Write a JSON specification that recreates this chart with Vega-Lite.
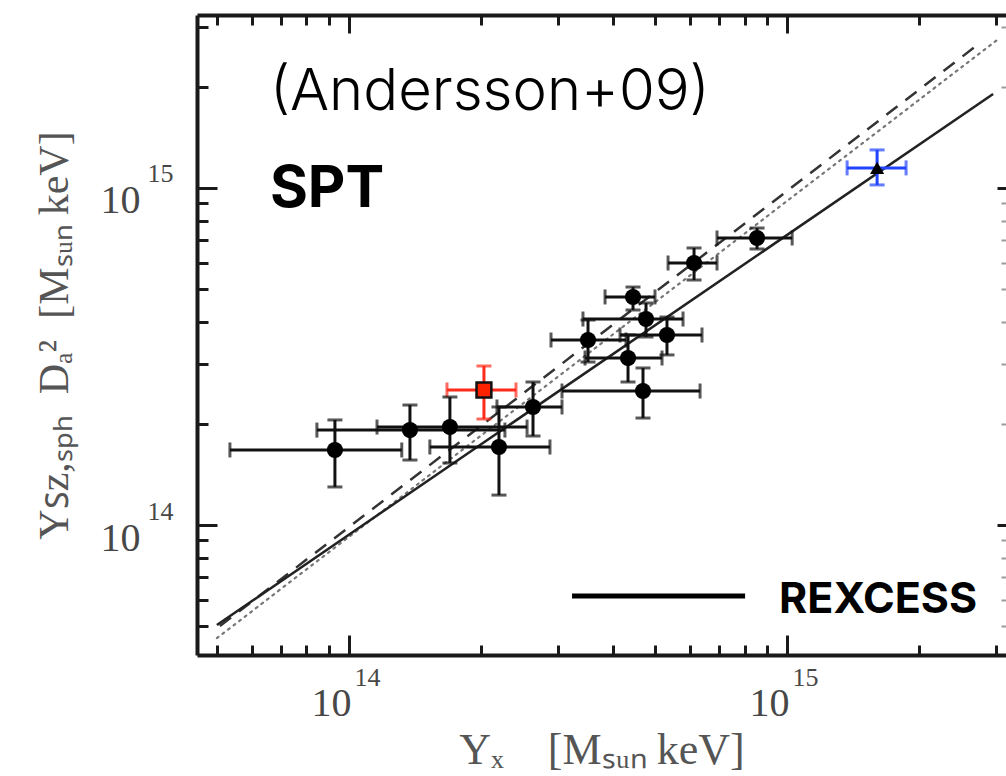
{
  "$schema": "https://vega.github.io/schema/vega-lite/v6.json",
  "autosize": {"type": "none"},
  "padding": {"left": 197, "right": 0, "top": 15, "bottom": 121},
  "width": 809,
  "height": 640,
  "background": "white",
  "config": {
    "view": {"stroke": null},
    "axis": {"grid": false, "labelFont": "Liberation Serif", "titleFont": "Liberation Serif", "labelColor": "#474747", "titleColor": "#555555", "titleFontWeight": "normal", "domainColor": "#1a1a1a", "tickColor": "#1a1a1a", "domainWidth": 4, "tickWidth": 3, "labelFlush": false, "labelOverlap": false, "labelBound": false}
  },
  "datasets": {
    "pts": [
      {"kind": "black", "x": 9.29e13, "xlo": 5.35e13, "xhi": 1.32e14, "y": 1.67e14, "ylo": 1.297e14, "yhi": 2.05e14},
      {"kind": "black", "x": 1.378e14, "xlo": 8.45e13, "xhi": 2.27e14, "y": 1.913e14, "ylo": 1.559e14, "yhi": 2.27e14},
      {"kind": "black", "x": 1.70e14, "xlo": 1.159e14, "xhi": 2.55e14, "y": 1.953e14, "ylo": 1.528e14, "yhi": 2.398e14},
      {"kind": "red", "x": 2.033e14, "xlo": 1.674e14, "xhi": 2.406e14, "y": 2.516e14, "ylo": 2.063e14, "yhi": 2.964e14},
      {"kind": "black", "x": 2.20e14, "xlo": 1.53e14, "xhi": 2.876e14, "y": 1.704e14, "ylo": 1.227e14, "yhi": 2.24e14},
      {"kind": "black", "x": 2.631e14, "xlo": 2.177e14, "xhi": 3.064e14, "y": 2.24e14, "ylo": 1.837e14, "yhi": 2.657e14},
      {"kind": "black", "x": 3.513e14, "xlo": 2.892e14, "xhi": 4.29e14, "y": 3.54e14, "ylo": 3.045e14, "yhi": 4.057e14},
      {"kind": "black", "x": 4.335e14, "xlo": 3.458e14, "xhi": 5.183e14, "y": 3.13e14, "ylo": 2.657e14, "yhi": 3.663e14},
      {"kind": "black", "x": 4.69e14, "xlo": 3.064e14, "xhi": 6.33e14, "y": 2.498e14, "ylo": 2.077e14, "yhi": 2.924e14},
      {"kind": "black", "x": 4.765e14, "xlo": 3.421e14, "xhi": 5.788e14, "y": 4.085e14, "ylo": 3.613e14, "yhi": 4.558e14},
      {"kind": "black", "x": 4.45e14, "xlo": 3.842e14, "xhi": 4.995e14, "y": 4.75e14, "ylo": 4.345e14, "yhi": 5.083e14},
      {"kind": "black", "x": 5.32e14, "xlo": 4.156e14, "xhi": 6.395e14, "y": 3.663e14, "ylo": 3.196e14, "yhi": 4.141e14},
      {"kind": "black", "x": 6.133e14, "xlo": 5.35e14, "xhi": 6.92e14, "y": 5.99e14, "ylo": 5.333e14, "yhi": 6.637e14},
      {"kind": "black", "x": 8.54e14, "xlo": 6.92e14, "xhi": 1.027e15, "y": 7.106e14, "ylo": 6.592e14, "yhi": 7.607e14},
      {"kind": "blue", "x": 1.605e15, "xlo": 1.371e15, "xhi": 1.869e15, "y": 1.147e15, "ylo": 1.021e15, "yhi": 1.297e15}
    ],
    "lines": [
      {"series": "solid", "x": 4.996e13, "y": 5.05e13},
      {"series": "solid", "x": 2.953e15, "y": 1.9e15},
      {"series": "dashed", "x": 5.075e13, "y": 5.015e13},
      {"series": "dashed", "x": 2.758e15, "y": 2.694e15},
      {"series": "dotted", "x": 4.996e13, "y": 4.62e13},
      {"series": "dotted", "x": 3.017e15, "y": 2.749e15}
    ],
    "legend": [{"x1": 3.23e14, "x2": 8.02e14, "y": 6.155e13}],
    "notes": [
      {"x": 6.6e13, "y": 1.704e15, "label": "(Andersson+09)", "style": "light"},
      {"x": 6.6e13, "y": 8.78e14, "label": "SPT", "style": "bold"},
      {"x": 9.59e14, "y": 5.48e13, "label": "REXCESS", "style": "small"}
    ]
  },
  "resolve": {"axis": {"x": "independent", "y": "independent"}},
  "layer": [
    {
      "data": {"name": "lines"},
      "transform": [{"filter": "datum.series == 'dotted'"}],
      "mark": {"type": "line", "color": "#777777", "strokeWidth": 2.2, "strokeDash": [2, 5], "strokeCap": "round"},
      "encoding": {
        "x": {"field": "x", "type": "quantitative", "scale": {"type": "log", "domain": [4.5e13, 3.16e15], "nice": false},
          "axis": {"orient": "top", "title": null, "labels": false, "domain": true, "values": [1e14, 1e15], "tickSize": -18}},
        "y": {"field": "y", "type": "quantitative", "scale": {"type": "log", "domain": [4.115e13, 3.26e15], "nice": false},
          "axis": {"orient": "right", "title": null, "labels": false, "domain": false, "values": [1e14, 1e15], "tickSize": -9}}
      }
    },
    {
      "data": {"name": "lines"},
      "transform": [{"filter": "datum.series == 'dashed'"}],
      "mark": {"type": "line", "color": "#333333", "strokeWidth": 2.5, "strokeDash": [14, 10]},
      "encoding": {
        "x": {"field": "x", "type": "quantitative", "scale": {"type": "log", "domain": [4.5e13, 3.16e15], "nice": false},
          "axis": {"orient": "top", "title": null, "labels": false, "domain": false, "values": [5e13, 6e13, 7e13, 8e13, 9e13, 2e14, 3e14, 4e14, 5e14, 6e14, 7e14, 8e14, 9e14, 2e15, 3e15], "tickSize": -10}},
        "y": {"field": "y", "type": "quantitative", "scale": {"type": "log", "domain": [4.115e13, 3.26e15], "nice": false},
          "axis": {"orient": "right", "title": null, "labels": false, "domain": false, "tickColor": "#9a9a9a", "tickWidth": 2, "values": [5e13, 6e13, 7e13, 8e13, 9e13, 2e14, 3e14, 4e14, 5e14, 6e14, 7e14, 8e14, 9e14, 2e15, 3e15], "tickSize": -5}}
      }
    },
    {
      "data": {"name": "lines"},
      "transform": [{"filter": "datum.series == 'solid'"}],
      "mark": {"type": "line", "color": "#222222", "strokeWidth": 2.5},
      "encoding": {
        "x": {"field": "x", "type": "quantitative", "scale": {"type": "log", "domain": [4.5e13, 3.16e15], "nice": false},
          "axis": {"orient": "bottom", "title": null, "labels": false, "domain": true, "values": [1e14, 1e15], "tickSize": -20}},
        "y": {"field": "y", "type": "quantitative", "scale": {"type": "log", "domain": [4.115e13, 3.26e15], "nice": false},
          "axis": {"orient": "left", "title": null, "labels": false, "domain": true, "values": [1e14, 1e15], "tickSize": -20}}
      }
    },
    {
      "data": {"name": "pts"},
      "mark": {"type": "rule", "strokeWidth": 3},
      "encoding": {
        "x": {"field": "xlo", "type": "quantitative", "scale": {"type": "log", "domain": [4.5e13, 3.16e15], "nice": false},
          "axis": {"orient": "bottom", "title": null, "labels": false, "domain": false, "values": [5e13, 6e13, 7e13, 8e13, 9e13, 2e14, 3e14, 4e14, 5e14, 6e14, 7e14, 8e14, 9e14, 2e15, 3e15], "tickSize": -10}},
        "x2": {"field": "xhi"},
        "y": {"field": "y", "type": "quantitative", "scale": {"type": "log", "domain": [4.115e13, 3.26e15], "nice": false},
          "axis": {"orient": "left", "title": null, "labels": false, "domain": false, "values": [5e13, 6e13, 7e13, 8e13, 9e13, 2e14, 3e14, 4e14, 5e14, 6e14, 7e14, 8e14, 9e14, 2e15, 3e15], "tickSize": -11}},
        "color": {"field": "kind", "type": "nominal", "scale": {"domain": ["black", "red", "blue"], "range": ["#111111", "#ff2a1a", "#2143ff"]}, "legend": null}
      }
    },
    {
      "data": {"name": "pts"},
      "mark": {"type": "rule", "strokeWidth": 3},
      "encoding": {
        "x": {"field": "x", "type": "quantitative", "scale": {"type": "log", "domain": [4.5e13, 3.16e15], "nice": false},
          "axis": {"orient": "bottom", "domain": false, "ticks": false, "tickSize": 0, "values": [1e14, 1e15], "labelExpr": "'10'",
            "labelFontSize": 40, "labelAlign": "right", "labelBaseline": "alphabetic", "labelPadding": 60, "labelOffset": 2,
            "title": "Yₓ\u2003[Mₛᵤₙ\u2009keV]", "titleFontSize": 44, "titleBaseline": "alphabetic", "titleY": 108}},
        "y": {"field": "ylo", "type": "quantitative", "scale": {"type": "log", "domain": [4.115e13, 3.26e15], "nice": false},
          "axis": {"orient": "left", "domain": false, "ticks": false, "tickSize": 0, "values": [1e14, 1e15], "labelExpr": "'10'",
            "labelFontSize": 40, "labelAlign": "right", "labelBaseline": "alphabetic", "labelPadding": 57, "labelOffset": 25,
            "title": "Yꜱᴢ,ₛₚₕ\u2002Dₐ²\u2002[Mₛᵤₙ\u2009keV]", "titleFontSize": 42, "titleBaseline": "alphabetic", "titleX": -130}},
        "y2": {"field": "yhi"},
        "color": {"field": "kind", "type": "nominal", "scale": {"domain": ["black", "red", "blue"], "range": ["#111111", "#ff2a1a", "#2143ff"]}, "legend": null}
      }
    },
    {
      "data": {"name": "pts"},
      "mark": {"type": "tick", "orient": "vertical", "size": 15, "thickness": 3},
      "encoding": {
        "x": {"field": "xlo", "type": "quantitative", "scale": {"type": "log", "domain": [4.5e13, 3.16e15], "nice": false},
          "axis": {"orient": "bottom", "domain": false, "ticks": false, "tickSize": 0, "values": [1e14, 1e15], "labelExpr": "datum.value < 5e14 ? '14' : '15'",
            "labelFontSize": 26, "labelAlign": "left", "labelBaseline": "alphabetic", "labelPadding": 30, "labelOffset": 5, "title": null}},
        "y": {"field": "y", "type": "quantitative", "scale": {"type": "log", "domain": [4.115e13, 3.26e15], "nice": false},
          "axis": {"orient": "left", "domain": false, "ticks": false, "tickSize": 0, "values": [1e14, 1e15], "labelExpr": "datum.value < 5e14 ? '14' : '15'",
            "labelFontSize": 26, "labelAlign": "left", "labelBaseline": "alphabetic", "labelPadding": 50, "labelOffset": -6, "title": null}},
        "color": {"field": "kind", "type": "nominal", "scale": {"domain": ["black", "red", "blue"], "range": ["#111111", "#ff2a1a", "#2143ff"]}, "legend": null}
      }
    },
    {
      "data": {"name": "pts"},
      "mark": {"type": "tick", "orient": "vertical", "size": 15, "thickness": 3},
      "encoding": {
        "x": {"field": "xhi", "type": "quantitative", "scale": {"type": "log", "domain": [4.5e13, 3.16e15], "nice": false}, "axis": null},
        "y": {"field": "y", "type": "quantitative", "scale": {"type": "log", "domain": [4.115e13, 3.26e15], "nice": false}, "axis": null},
        "color": {"field": "kind", "type": "nominal", "scale": {"domain": ["black", "red", "blue"], "range": ["#111111", "#ff2a1a", "#2143ff"]}, "legend": null}
      }
    },
    {
      "data": {"name": "pts"},
      "mark": {"type": "tick", "orient": "horizontal", "size": 15, "thickness": 3},
      "encoding": {
        "x": {"field": "x", "type": "quantitative", "scale": {"type": "log", "domain": [4.5e13, 3.16e15], "nice": false}, "axis": null},
        "y": {"field": "ylo", "type": "quantitative", "scale": {"type": "log", "domain": [4.115e13, 3.26e15], "nice": false}, "axis": null},
        "color": {"field": "kind", "type": "nominal", "scale": {"domain": ["black", "red", "blue"], "range": ["#111111", "#ff2a1a", "#2143ff"]}, "legend": null}
      }
    },
    {
      "data": {"name": "pts"},
      "mark": {"type": "tick", "orient": "horizontal", "size": 15, "thickness": 3},
      "encoding": {
        "x": {"field": "x", "type": "quantitative", "scale": {"type": "log", "domain": [4.5e13, 3.16e15], "nice": false}, "axis": null},
        "y": {"field": "yhi", "type": "quantitative", "scale": {"type": "log", "domain": [4.115e13, 3.26e15], "nice": false}, "axis": null},
        "color": {"field": "kind", "type": "nominal", "scale": {"domain": ["black", "red", "blue"], "range": ["#111111", "#ff2a1a", "#2143ff"]}, "legend": null}
      }
    },
    {
      "data": {"name": "pts"},
      "transform": [{"filter": "datum.kind == 'black'"}],
      "mark": {"type": "point", "shape": "circle", "filled": true, "size": 260, "color": "#000000", "opacity": 1},
      "encoding": {
        "x": {"field": "x", "type": "quantitative", "scale": {"type": "log", "domain": [4.5e13, 3.16e15], "nice": false}, "axis": null},
        "y": {"field": "y", "type": "quantitative", "scale": {"type": "log", "domain": [4.115e13, 3.26e15], "nice": false}, "axis": null}
      }
    },
    {
      "data": {"name": "pts"},
      "transform": [{"filter": "datum.kind == 'red'"}],
      "mark": {"type": "point", "shape": "square", "filled": true, "size": 220, "fill": "#ff2200", "stroke": "#111111", "strokeWidth": 2.5, "opacity": 1},
      "encoding": {
        "x": {"field": "x", "type": "quantitative", "scale": {"type": "log", "domain": [4.5e13, 3.16e15], "nice": false}, "axis": null},
        "y": {"field": "y", "type": "quantitative", "scale": {"type": "log", "domain": [4.115e13, 3.26e15], "nice": false}, "axis": null}
      }
    },
    {
      "data": {"name": "pts"},
      "transform": [{"filter": "datum.kind == 'blue'"}],
      "mark": {"type": "point", "shape": "triangle-up", "filled": true, "size": 200, "color": "#000000", "opacity": 1},
      "encoding": {
        "x": {"field": "x", "type": "quantitative", "scale": {"type": "log", "domain": [4.5e13, 3.16e15], "nice": false}, "axis": null},
        "y": {"field": "y", "type": "quantitative", "scale": {"type": "log", "domain": [4.115e13, 3.26e15], "nice": false}, "axis": null}
      }
    },
    {
      "data": {"name": "legend"},
      "mark": {"type": "rule", "strokeWidth": 5, "color": "#000000"},
      "encoding": {
        "x": {"field": "x1", "type": "quantitative", "scale": {"type": "log", "domain": [4.5e13, 3.16e15], "nice": false}, "axis": null},
        "x2": {"field": "x2"},
        "y": {"field": "y", "type": "quantitative", "scale": {"type": "log", "domain": [4.115e13, 3.26e15], "nice": false}, "axis": null}
      }
    },
    {
      "data": {"name": "notes"},
      "transform": [{"filter": "datum.style == 'light'"}],
      "mark": {"type": "text", "font": "Inter", "fontSize": 58, "fontWeight": 300, "align": "left", "baseline": "alphabetic", "color": "#000000"},
      "encoding": {
        "x": {"field": "x", "type": "quantitative", "scale": {"type": "log", "domain": [4.5e13, 3.16e15], "nice": false}, "axis": null},
        "y": {"field": "y", "type": "quantitative", "scale": {"type": "log", "domain": [4.115e13, 3.26e15], "nice": false}, "axis": null},
        "text": {"field": "label"}
      }
    },
    {
      "data": {"name": "notes"},
      "transform": [{"filter": "datum.style == 'bold'"}],
      "mark": {"type": "text", "font": "Inter", "fontSize": 58, "fontWeight": 700, "align": "left", "baseline": "alphabetic", "color": "#000000"},
      "encoding": {
        "x": {"field": "x", "type": "quantitative", "scale": {"type": "log", "domain": [4.5e13, 3.16e15], "nice": false}, "axis": null},
        "y": {"field": "y", "type": "quantitative", "scale": {"type": "log", "domain": [4.115e13, 3.26e15], "nice": false}, "axis": null},
        "text": {"field": "label"}
      }
    },
    {
      "data": {"name": "notes"},
      "transform": [{"filter": "datum.style == 'small'"}],
      "mark": {"type": "text", "font": "Inter", "fontSize": 43, "fontWeight": 700, "align": "left", "baseline": "alphabetic", "color": "#000000"},
      "encoding": {
        "x": {"field": "x", "type": "quantitative", "scale": {"type": "log", "domain": [4.5e13, 3.16e15], "nice": false}, "axis": null},
        "y": {"field": "y", "type": "quantitative", "scale": {"type": "log", "domain": [4.115e13, 3.26e15], "nice": false}, "axis": null},
        "text": {"field": "label"}
      }
    }
  ]
}
